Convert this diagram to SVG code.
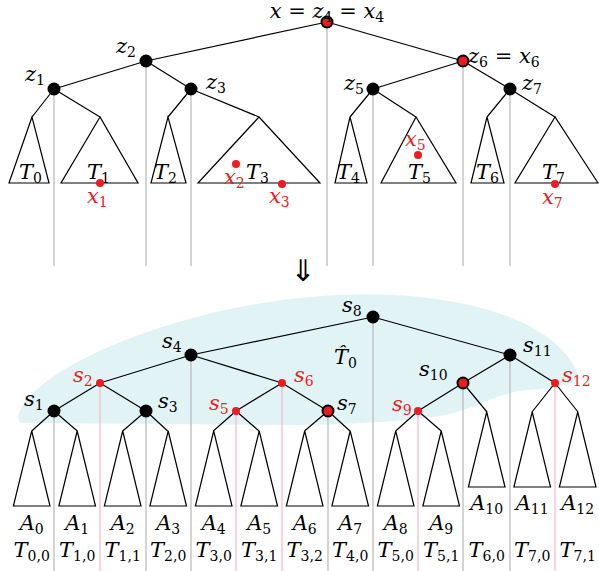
<svg xmlns="http://www.w3.org/2000/svg" width="599" height="571" viewBox="0 0 599 571">
<style>
.e{stroke:#000;stroke-width:1.2;fill:none}
.g{stroke:#b8b8b8;stroke-width:1.2;fill:none}
.p{stroke:#f5b8c6;stroke-width:1.2;fill:none}
.tri{stroke:#000;stroke-width:1.2;fill:none;stroke-linejoin:miter}
.n{fill:#000}
.r{fill:#ed1c24}
.ro{fill:#ed1c24;stroke:#000;stroke-width:2}
text{font-family:"DejaVu Serif","Liberation Serif",serif;font-size:21px;font-style:italic;fill:#000}
.red{fill:#ed1c24}
.s{font-style:normal;font-size:14px}
.u{font-style:normal}
.c{text-anchor:middle}
</style>
<path id="region" fill="#e2f3f6" d="M22 423 L300 425 C360 424 405 421 440 416 C480 409 495 392 530 390 C555 388 585 386 576 370 C562 340 520 308 420 297 C300 284 150 318 60 372 C22 396 12 420 22 423 Z"/>
<g id="connectors">
<g id="top-verticals" class="g">
<path d="M54 89V266M146 61V266M191 89V266M327 22V266M373 89V266M463 61V266M510 89V266"/>
</g>
<g id="bottom-verticals">
<path class="g" d="M54 411V571M146 411V571M191 355V571M328 411V571M373 317V571M463 383V571M510 355V571"/>
<path class="p" d="M100 383V571M236 411V571M282 383V571M418 411V571M555 383V571"/>
</g>
<g id="top-edges" class="e">
<path d="M327 22L146 61M327 22L463 61M146 61L54 89M146 61L191 89M54 89L32 117M54 89L100 117M191 89L168 117M191 89L259 117M463 61L373 89M463 61L510 89M373 89L350 117M373 89L416 117M510 89L487 117M510 89L555 117"/>
</g>
<g id="bottom-edges" class="e">
<path d="M373 317L191 355M373 317L510 355M191 355L100 383M191 355L282 383M100 383L54 411M100 383L146 411M282 383L236 411M282 383L328 411M510 355L463 383M510 355L555 383M463 383L418 411M463 383L487 412M555 383L532 412M555 383L578 412"/>
<path d="M54 411L31.7 431M54 411L77.3 431M146 411L122.7 431M146 411L167.7 431M236 411L213.3 431M236 411L259 431M328 411L304.5 431M328 411L350 431M418 411L395.7 431M418 411L441.3 431"/>
</g>
</g>
<g id="top-subtrees" class="tri">
<polygon id="T0" points="32,117 9,183 49,183"/>
<polygon id="T1" points="100,117 61,183 138,183"/>
<polygon id="T2" points="168,117 151,183 186,183"/>
<polygon id="T3" points="259,117 198,183 320,183"/>
<polygon id="T4" points="350,117 335,183 367,183"/>
<polygon id="T5" points="416,117 381,183 456,183"/>
<polygon id="T6" points="487,117 471,183 504,183"/>
<polygon id="T7" points="555,117 515,183 598,183"/>
</g>
<g id="bottom-subtrees" class="tri">
<polygon id="A0" points="31.7,431 13.4,506 50,506"/>
<polygon id="A1" points="77.2,431 58.9,506 95.5,506"/>
<polygon id="A2" points="122.7,431 104.4,506 141,506"/>
<polygon id="A3" points="168.2,431 149.9,506 186.5,506"/>
<polygon id="A4" points="213.7,431 195.4,506 232,506"/>
<polygon id="A5" points="259.2,431 240.9,506 277.5,506"/>
<polygon id="A6" points="304.7,431 286.4,506 323,506"/>
<polygon id="A7" points="350.2,431 331.9,506 368.5,506"/>
<polygon id="A8" points="395.7,431 377.4,506 414,506"/>
<polygon id="A9" points="441.2,431 422.9,506 459.5,506"/>
<polygon id="A10" points="486.7,412 468.4,487 505,487"/>
<polygon id="A11" points="532.2,412 513.9,487 550.5,487"/>
<polygon id="A12" points="577.7,412 559.4,487 596,487"/>
</g>
<g id="top-nodes">
<g id="z4"><circle class="ro" cx="327" cy="22" r="5.5"/><text x="327" y="18" class="c">x<tspan class="u"> = </tspan>z<tspan class="s" dy="4">4</tspan><tspan class="u" dy="-4"> = </tspan>x<tspan class="s" dy="4">4</tspan></text></g>
<g id="z2"><circle class="n" cx="146" cy="61" r="6.5"/><text x="116" y="53">z<tspan class="s" dy="4">2</tspan></text></g>
<g id="z1"><circle class="n" cx="54" cy="89" r="6.5"/><text x="25" y="81">z<tspan class="s" dy="4">1</tspan></text></g>
<g id="z3"><circle class="n" cx="191" cy="89" r="6.5"/><text x="206" y="89">z<tspan class="s" dy="4">3</tspan></text></g>
<g id="z6"><circle class="ro" cx="463" cy="61" r="5.5"/><text x="468" y="63">z<tspan class="s" dy="4">6</tspan><tspan class="u" dy="-4"> = </tspan>x<tspan class="s" dy="4">6</tspan></text></g>
<g id="z5"><circle class="n" cx="373" cy="89" r="6.5"/><text x="344" y="90">z<tspan class="s" dy="4">5</tspan></text></g>
<g id="z7"><circle class="n" cx="510" cy="89" r="6.5"/><text x="522" y="90">z<tspan class="s" dy="4">7</tspan></text></g>
</g>
<g id="top-labels">
<text x="19" y="179">T<tspan class="s" dy="4">0</tspan></text>
<text x="87" y="179">T<tspan class="s" dy="4">1</tspan></text>
<text x="154" y="179">T<tspan class="s" dy="4">2</tspan></text>
<text x="246" y="179">T<tspan class="s" dy="4">3</tspan></text>
<text x="337" y="179">T<tspan class="s" dy="4">4</tspan></text>
<text x="408" y="179">T<tspan class="s" dy="4">5</tspan></text>
<text x="476" y="179">T<tspan class="s" dy="4">6</tspan></text>
<text x="542" y="179">T<tspan class="s" dy="4">7</tspan></text>
</g>
<g id="points">
<g id="x1"><circle class="r" cx="100" cy="183" r="4"/><text class="red" x="87" y="203">x<tspan class="s" dy="4">1</tspan></text></g>
<g id="x2"><circle class="r" cx="236" cy="164" r="4"/><text class="red" x="224" y="184">x<tspan class="s" dy="4">2</tspan></text></g>
<g id="x3"><circle class="r" cx="282" cy="184" r="4"/><text class="red" x="269" y="203">x<tspan class="s" dy="4">3</tspan></text></g>
<g id="x5"><circle class="r" cx="418" cy="155" r="4"/><text class="red" x="405" y="146">x<tspan class="s" dy="4">5</tspan></text></g>
<g id="x7"><circle class="r" cx="555" cy="184" r="4"/><text class="red" x="542" y="204">x<tspan class="s" dy="4">7</tspan></text></g>
</g>
<text x="303" y="281" class="c u" style="font-family:'DejaVu Sans',sans-serif;font-size:30px">⇓</text>
<g id="bottom-nodes">
<g id="s8"><circle class="n" cx="373" cy="317" r="6.5"/><text x="342" y="312">s<tspan class="s" dy="4">8</tspan></text></g>
<g id="s4"><circle class="n" cx="191" cy="355" r="6.5"/><text x="162" y="348">s<tspan class="s" dy="4">4</tspan></text></g>
<g id="s11"><circle class="n" cx="510" cy="355" r="6.5"/><text x="523" y="352">s<tspan class="s" dy="4">11</tspan></text></g>
<g id="s2"><circle class="r" cx="100" cy="383" r="4"/><text class="red" x="73" y="382">s<tspan class="s" dy="4">2</tspan></text></g>
<g id="s6"><circle class="r" cx="282" cy="383" r="4"/><text class="red" x="294" y="382">s<tspan class="s" dy="4">6</tspan></text></g>
<g id="s10"><circle class="ro" cx="463" cy="383" r="5.5"/><text x="419" y="376">s<tspan class="s" dy="4">10</tspan></text></g>
<g id="s12"><circle class="r" cx="555" cy="383" r="4"/><text class="red" x="562" y="382">s<tspan class="s" dy="4">12</tspan></text></g>
<g id="s1"><circle class="n" cx="54" cy="411" r="6.5"/><text x="24" y="406">s<tspan class="s" dy="4">1</tspan></text></g>
<g id="s3"><circle class="n" cx="146" cy="411" r="6.5"/><text x="158" y="408">s<tspan class="s" dy="4">3</tspan></text></g>
<g id="s5"><circle class="r" cx="236" cy="411" r="4"/><text class="red" x="209" y="410">s<tspan class="s" dy="4">5</tspan></text></g>
<g id="s7"><circle class="ro" cx="328" cy="411" r="5.5"/><text x="337" y="410">s<tspan class="s" dy="4">7</tspan></text></g>
<g id="s9"><circle class="r" cx="418" cy="411" r="4"/><text class="red" x="392" y="411">s<tspan class="s" dy="4">9</tspan></text></g>
</g>
<g id="T0hat"><text x="334" y="364">T&#x302;<tspan class="s" dy="4">0</tspan></text></g>
<g id="bottom-labels">
<text class="c" x="31.7" y="530">A<tspan class="s" dy="4">0</tspan></text>
<text class="c" x="77.2" y="530">A<tspan class="s" dy="4">1</tspan></text>
<text class="c" x="122.7" y="530">A<tspan class="s" dy="4">2</tspan></text>
<text class="c" x="168.2" y="530">A<tspan class="s" dy="4">3</tspan></text>
<text class="c" x="213.7" y="530">A<tspan class="s" dy="4">4</tspan></text>
<text class="c" x="259.2" y="530">A<tspan class="s" dy="4">5</tspan></text>
<text class="c" x="304.7" y="530">A<tspan class="s" dy="4">6</tspan></text>
<text class="c" x="350.2" y="530">A<tspan class="s" dy="4">7</tspan></text>
<text class="c" x="395.7" y="530">A<tspan class="s" dy="4">8</tspan></text>
<text class="c" x="441.2" y="530">A<tspan class="s" dy="4">9</tspan></text>
<text class="c" x="486.7" y="510">A<tspan class="s" dy="4">10</tspan></text>
<text class="c" x="532.2" y="510">A<tspan class="s" dy="4">11</tspan></text>
<text class="c" x="577.7" y="510">A<tspan class="s" dy="4">12</tspan></text>
<text class="c" x="31.7" y="557">T<tspan class="s" dy="4">0,0</tspan></text>
<text class="c" x="77.2" y="557">T<tspan class="s" dy="4">1,0</tspan></text>
<text class="c" x="122.7" y="557">T<tspan class="s" dy="4">1,1</tspan></text>
<text class="c" x="168.2" y="557">T<tspan class="s" dy="4">2,0</tspan></text>
<text class="c" x="213.7" y="557">T<tspan class="s" dy="4">3,0</tspan></text>
<text class="c" x="259.2" y="557">T<tspan class="s" dy="4">3,1</tspan></text>
<text class="c" x="304.7" y="557">T<tspan class="s" dy="4">3,2</tspan></text>
<text class="c" x="350.2" y="557">T<tspan class="s" dy="4">4,0</tspan></text>
<text class="c" x="395.7" y="557">T<tspan class="s" dy="4">5,0</tspan></text>
<text class="c" x="441.2" y="557">T<tspan class="s" dy="4">5,1</tspan></text>
<text class="c" x="486.7" y="557">T<tspan class="s" dy="4">6,0</tspan></text>
<text class="c" x="532.2" y="557">T<tspan class="s" dy="4">7,0</tspan></text>
<text class="c" x="577.7" y="557">T<tspan class="s" dy="4">7,1</tspan></text>
</g>
</svg>
